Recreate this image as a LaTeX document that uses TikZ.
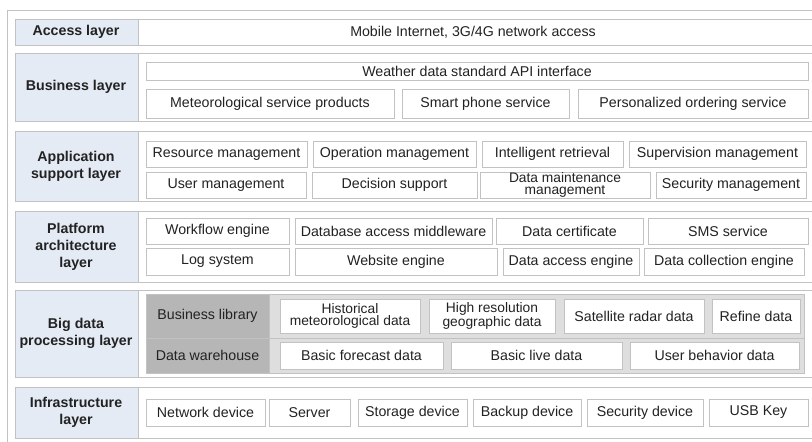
\documentclass[tikz,border=0pt]{standalone}
\usepackage{fontspec}
\setmainfont{Liberation Sans}
\definecolor{lblue}{HTML}{E4EBF5}
\definecolor{bord}{HTML}{C2C2C2}
\definecolor{dgray}{HTML}{B6B6B6}
\definecolor{lgray}{HTML}{DEDEDE}
\definecolor{txt}{HTML}{222222}
\newcommand\bx[6][]{%
  \node[cell,#1,minimum width={(#4-#2)*1pt},minimum height={(#5-#3)*1pt}]
    (#6) at ({(#2+#4)/2},{(#3+#5)/2}) {};}
\newcommand\tx[3][]{\node[lbl,#1] at (#2) {#3};}
\begin{document}
\begin{tikzpicture}[x=1pt,y=-1pt,
  cell/.style={draw=bord,line width=0.8pt,fill=white,inner sep=0pt,rectangle},
  lbl/.style={text=txt,font=\fontsize{14.2}{16}\selectfont,align=center,inner sep=0pt},
  hd/.style={lbl,font=\fontsize{14.2}{17}\selectfont\bfseries},
  tight/.style={lbl,font=\fontsize{13.8}{12.8}\selectfont}]
\useasboundingbox (0,0) rectangle (812,442);
\clip (0,0) rectangle (812,442);
% outer frame
\draw[draw=bord,line width=0.8pt] (7,10) rectangle (830,460);
% rows
\foreach \ya/\yb in {19/45,53/121,131/201,211/282,290/377,387/438}{
  \draw[draw=bord,line width=0.8pt,fill=white] (15,\ya) rectangle (830,\yb);
  \draw[draw=bord,line width=0.8pt,fill=lblue] (15,\ya) rectangle (138,\yb);
}
% labels
\node[hd] (lacc) at (76,32) {Access layer};
\node[hd] (lbus) at (76,87) {Business layer};
\node[hd] (lapp) at (76,166) {Application\\support layer};
\node[hd] (lpla) at (76,246.5) {Platform\\architecture\\layer};
\node[hd] (lbig) at (76,333.5) {Big data\\processing layer};
\node[hd] (linf) at (76,412.5) {Infrastructure\\layer};
% access
\node[lbl] (acc) at (473,32) {Mobile Internet, 3G/4G network access};
% business
\bx{146}{62}{808}{80}{api}\tx{api}{Weather data standard API interface}
\bx{146}{89}{394}{118}{met}\tx{met}{Meteorological service products}
\bx{402}{89}{569}{118}{smp}\tx{smp}{Smart phone service}
\bx{578}{89}{808}{118}{per}\tx{per}{Personalized ordering service}
% application support
\bx{146}{141}{307}{167}{res}\tx{res}{Resource management}
\bx{313}{141}{476}{167}{ope}\tx{ope}{Operation management}
\bx{482}{141}{623}{167}{int}\tx{int}{Intelligent retrieval}
\bx{629}{141}{806}{167}{sup}\tx{sup}{Supervision management}
\bx{146}{172}{306}{198}{usr}\tx{usr}{User management}
\bx{312}{172}{477}{198}{dec}\tx{dec}{Decision support}
\bx{480}{172}{650}{198}{dmm}\tx[tight]{dmm}{Data maintenance\\management}
\bx{656}{172}{806}{198}{sec}\tx{sec}{Security management}
% platform
\bx{146}{218}{289}{244}{wfe}\tx{wfe}{Workflow engine}
\bx{295}{218}{492}{244}{dam}\tx{dam}{Database access middleware}
\bx{496}{218}{643}{244}{dce}\tx{dce}{Data certificate}
\bx{648}{218}{808}{244}{sms}\tx{sms}{SMS service}
\bx{146}{248}{289}{275}{log}\tx{log}{Log system}
\bx{295}{248}{497}{275}{web}\tx{web}{Website engine}
\bx{503}{248}{639}{275}{dae}\tx{dae}{Data access engine}
\bx{644}{248}{804}{275}{dco}\tx{dco}{Data collection engine}
% big data
\bx[fill=lgray]{146}{294}{804}{373}{gra}
\bx[fill=dgray]{146}{294}{269}{338}{bli}\tx{bli}{Business library}
\bx[fill=dgray]{146}{338}{269}{373}{dwh}\tx{dwh}{Data warehouse}
\draw[draw=bord,line width=0.8pt] (bli.south east) -- (gra.east |- bli.south);
\bx{280}{299}{420}{333}{his}\tx[tight]{his}{Historical\\meteorological data}
\bx{429}{299}{555}{333}{hrg}\tx[tight]{hrg}{High resolution\\geographic data}
\bx{564}{299}{704}{333}{sat}\tx{sat}{Satellite radar data}
\bx{712}{299}{800}{333}{ref}\tx{ref}{Refine data}
\bx{280}{342}{443}{369}{bfd}\tx{bfd}{Basic forecast data}
\bx{451}{342}{622}{369}{bld}\tx{bld}{Basic live data}
\bx{630}{342}{799}{369}{ubd}\tx{ubd}{User behavior data}
% infrastructure
\bx{146}{399}{265}{426}{net}\tx{net}{Network device}
\bx{269}{399}{350}{426}{srv}\tx{srv}{Server}
\bx{358}{399}{467}{426}{sto}\tx{sto}{Storage device}
\bx{473}{399}{581}{426}{bak}\tx{bak}{Backup device}
\bx{587}{399}{703}{426}{sdv}\tx{sdv}{Security device}
\bx{709}{399}{808}{426}{usb}\tx{usb}{USB Key}
\end{tikzpicture}
\end{document}
